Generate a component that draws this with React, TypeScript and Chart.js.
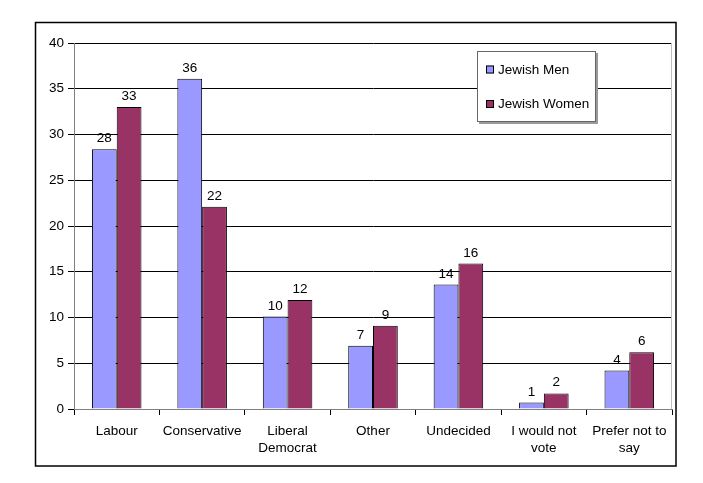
import React, { useEffect, useRef } from "react";
import { Chart, registerables } from "chart.js";

Chart.register(...registerables);

const categories: (string | string[])[] = [
  "Labour",
  "Conservative",
  ["Liberal", "Democrat"],
  "Other",
  "Undecided",
  ["I would not", "vote"],
  ["Prefer not to", "say"],
];
const menValues = [28.4, 36.1, 10.1, 6.9, 13.6, 0.7, 4.2];
const womenValues = [33.0, 22.1, 11.9, 9.1, 15.9, 1.7, 6.2];
const seriesNames = ["Jewish Men", "Jewish Women"];
const yTicks = [0, 5, 10, 15, 20, 25, 30, 35, 40];

const MEN_COLOR = "#9999FF";
const WOMEN_COLOR = "#993366";
const FONT = "Liberation Sans, Arial, sans-serif";
const FS = 13.5;

const decorPlugin = {
  id: "decor",
  beforeDraw(chart: any) {
    const ctx = chart.ctx;
    ctx.save();
    ctx.fillStyle = "#ffffff";
    ctx.fillRect(0, 0, chart.width, chart.height);
    ctx.restore();
  },
  afterDatasetsDraw(chart: any) {
    const ctx = chart.ctx;
    ctx.save();
    ctx.font = `${FS}px ${FONT}`;
    ctx.fillStyle = "#000";
    ctx.textAlign = "center";
    ctx.textBaseline = "alphabetic";
    chart.data.datasets.forEach((ds: any, di: number) => {
      const meta = chart.getDatasetMeta(di);
      meta.data.forEach((bar: any, i: number) => {
        const v = ds.data[i];
        ctx.fillText(String(Math.round(v)), bar.x, bar.y - 7);
      });
    });
    ctx.restore();
  },
  afterDraw(chart: any) {
    const ctx = chart.ctx;
    const a = chart.chartArea;
    ctx.save();
    ctx.strokeStyle = "#c0c0c0";
    ctx.lineWidth = 1;
    ctx.beginPath();
    ctx.moveTo(Math.round(a.right) - 0.5, a.top);
    ctx.lineTo(Math.round(a.right) - 0.5, a.bottom);
    ctx.stroke();

    ctx.strokeStyle = "#000";
    ctx.lineWidth = 1.5;
    ctx.strokeRect(35.5, 22.5, 640.5, 443.5);

    const lx = 477, ly = 51, lw = 119, lh = 71;
    ctx.fillStyle = "#9a9a9a";
    ctx.fillRect(lx + 2, ly + 2, lw, lh);
    ctx.fillStyle = "#ffffff";
    ctx.fillRect(lx, ly, lw, lh);
    ctx.strokeStyle = "#666";
    ctx.lineWidth = 1;
    ctx.strokeRect(lx + 0.5, ly + 0.5, lw - 1, lh - 1);

    const colors = [MEN_COLOR, WOMEN_COLOR];
    const rows = [69.5, 104];
    ctx.font = `${FS}px ${FONT}`;
    ctx.textAlign = "left";
    ctx.textBaseline = "middle";
    seriesNames.forEach((name, i) => {
      const cy = rows[i];
      ctx.fillStyle = colors[i];
      ctx.fillRect(486, cy - 4, 8, 8);
      ctx.strokeStyle = "#000";
      ctx.strokeRect(486.5, cy - 3.5, 7, 7);
      ctx.fillStyle = "#000";
      ctx.fillText(name, 498, cy + 0.5);
    });
    ctx.restore();
  },
};

export default function App() {
  const ref = useRef<HTMLCanvasElement | null>(null);
  useEffect(() => {
    document.body.style.margin = "0";
    const canvas = ref.current;
    if (!canvas) return;
    const chart = new Chart(canvas, {
      type: "bar",
      data: {
        labels: categories,
        datasets: [
          {
            label: seriesNames[0],
            data: menValues,
            backgroundColor: MEN_COLOR,
            borderColor: "#000",
            borderWidth: 1,
            categoryPercentage: 0.58,
            barPercentage: 1,
          },
          {
            label: seriesNames[1],
            data: womenValues,
            backgroundColor: WOMEN_COLOR,
            borderColor: "#000",
            borderWidth: 1,
            categoryPercentage: 0.58,
            barPercentage: 1,
          },
        ],
      },
      options: {
        animation: false,
        responsive: false,
        maintainAspectRatio: false,
        layout: { padding: { left: 36, top: 43, right: 31, bottom: 24 } },
        plugins: {
          legend: { display: false },
          tooltip: { enabled: false },
          title: { display: false },
        },
        scales: {
          x: {
            grid: {
              display: true,
              drawOnChartArea: false,
              drawTicks: true,
              tickLength: 6,
              color: "#000",
              offset: true,
            },
            border: { display: true, color: "#808080", width: 1 },
            ticks: {
              color: "#000",
              font: { family: FONT, size: FS, lineHeight: 1.25 },
              padding: 8,
              maxRotation: 0,
              autoSkip: false,
            },
            afterFit(scale: any) {
              scale.height = 50;
            },
          },
          y: {
            min: 0,
            max: 40,
            afterBuildTicks(scale: any) {
              scale.ticks = yTicks.map((v) => ({ value: v }));
            },
            grid: {
              color: "#000",
              lineWidth: 1,
              drawTicks: true,
              tickLength: 6,
            },
            border: { display: true, color: "#808080", width: 1 },
            ticks: {
              color: "#000",
              font: { family: FONT, size: FS },
              padding: 4,
            },
            afterFit(scale: any) {
              scale.width = 38;
            },
          },
        },
      },
      plugins: [decorPlugin],
    });
    return () => chart.destroy();
  }, []);
  return (
    <div style={{ width: 703, height: 483 }}>
      <canvas ref={ref} width={703} height={483} style={{ display: "block" }} />
    </div>
  );
}
